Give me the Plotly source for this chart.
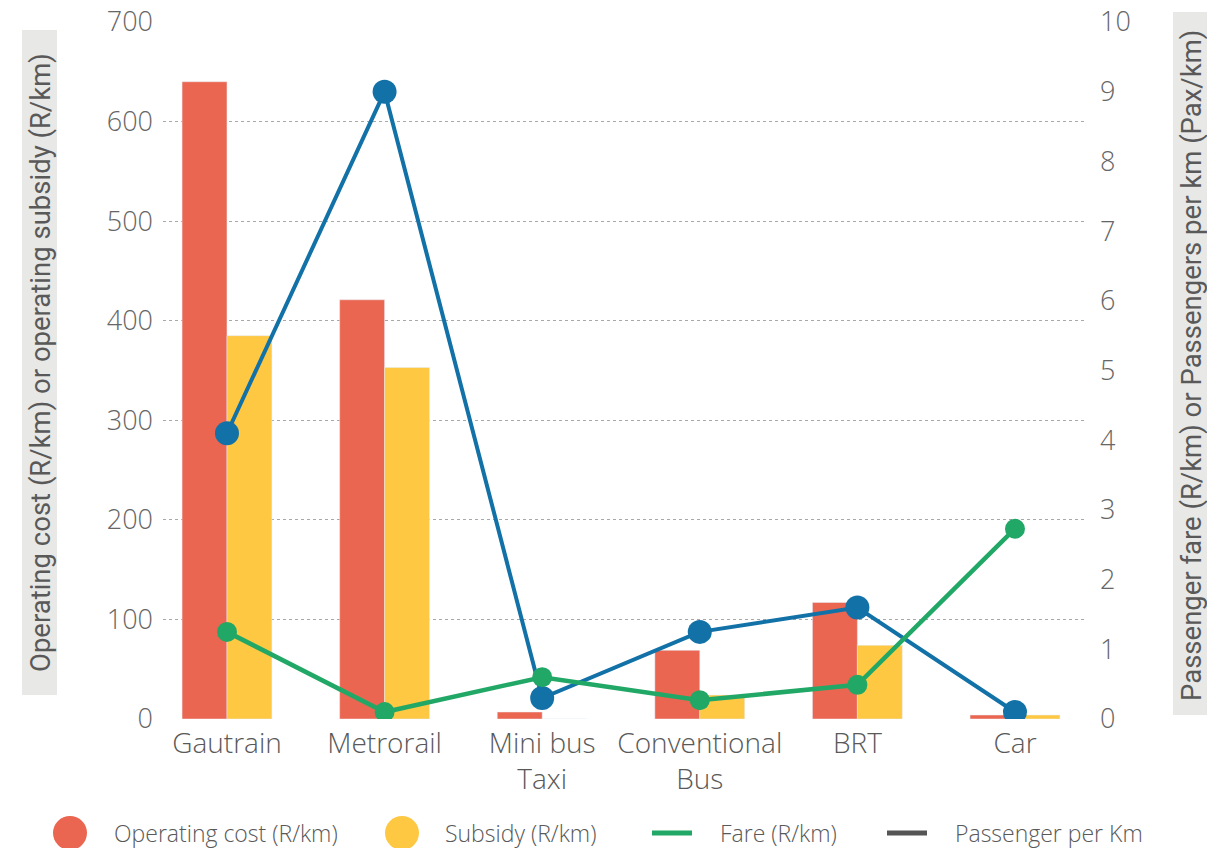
import plotly.graph_objects as go

categories = ["Gautrain", "Metrorail", "Mini bus<br>Taxi", "Conventional<br>Bus", "BRT", "Car"]
operating_cost = [640, 421, 7, 69, 117, 4]
subsidy = [385, 353, 0, 24, 74, 4]
fare = [1.25, 0.1, 0.6, 0.27, 0.49, 2.73]
passengers_per_km = [4.1, 9.0, 0.3, 1.25, 1.6, 0.1]
left_ticks = [0, 100, 200, 300, 400, 500, 600, 700]
right_ticks = [0, 1, 2, 3, 4, 5, 6, 7, 8, 9, 10]

RED = "#EB6650"
YELLOW = "#FEC843"
GREEN = "#22A866"
BLUE = "#1271A7"
TXT = "#595959"

# pixel geometry of plot area
W, H = 1207, 848
PX0, PX1, PY0, PY1 = 163, 1087, 22, 719


def px(x):
    return (x - PX0) / (PX1 - PX0)


def py(y):
    return (PY1 - y) / (PY1 - PY0)


fig = go.Figure()
fig.add_trace(go.Bar(x=categories, y=operating_cost, name="Operating cost (R/km)",
                     marker=dict(color=RED), showlegend=False))
fig.add_trace(go.Bar(x=categories, y=subsidy, name="Subsidy (R/km)",
                     marker=dict(color=YELLOW), showlegend=False))
fig.add_trace(go.Scatter(x=categories, y=passengers_per_km, name="Passenger per Km",
                         mode="lines+markers", yaxis="y2",
                         line=dict(color=BLUE, width=4),
                         marker=dict(color=BLUE, size=24), showlegend=False))
fig.add_trace(go.Scatter(x=categories, y=fare, name="Fare (R/km)",
                         mode="lines+markers", yaxis="y2",
                         line=dict(color=GREEN, width=4.5),
                         marker=dict(color=GREEN, size=20), showlegend=False))

shapes = []
annotations = []

# axis title boxes
shapes.append(dict(type="rect", xref="paper", yref="paper", layer="below",
                   x0=px(22), x1=px(57), y0=py(695), y1=py(30),
                   fillcolor="#E8E8E6", line=dict(width=0)))
shapes.append(dict(type="rect", xref="paper", yref="paper", layer="below",
                   x0=px(1173), x1=px(1215), y0=py(715), y1=py(12),
                   fillcolor="#E8E8E6", line=dict(width=0)))
annotations.append(dict(text="Operating cost (R/km) or operating subsidy (R/km)",
                        xref="paper", yref="paper", x=px(40), y=py(363),
                        xanchor="center", yanchor="middle",
                        textangle=-90, showarrow=False,
                        font=dict(family="Roboto", size=27.5, color=TXT)))
annotations.append(dict(text="Passenger fare (R/km) or Passengers per km (Pax/km)",
                        xref="paper", yref="paper", x=px(1191), y=py(366),
                        xanchor="center", yanchor="middle",
                        textangle=-90, showarrow=False,
                        font=dict(family="Roboto", size=27.5, color=TXT)))

# custom legend
legend_items = [
    ("circle", RED, 70, 112, "Operating cost (R/km)"),
    ("circle", YELLOW, 402, 443, "Subsidy (R/km)"),
    ("line", GREEN, 672, 718, "Fare (R/km)"),
    ("line", "#555555", 907, 953, "Passenger per Km"),
]
LY = 833
for kind, col, cx, tx, label in legend_items:
    if kind == "circle":
        shapes.append(dict(type="circle", xref="paper", yref="paper",
                           x0=px(cx - 17), x1=px(cx + 17), y0=py(LY + 17), y1=py(LY - 17),
                           fillcolor=col, line=dict(width=0)))
    else:
        shapes.append(dict(type="line", xref="paper", yref="paper",
                           x0=px(cx - 20), x1=px(cx + 20), y0=py(LY), y1=py(LY),
                           line=dict(color=col, width=5)))
    annotations.append(dict(text=label, xref="paper", yref="paper",
                            x=px(tx), y=py(LY), xanchor="left", yanchor="middle",
                            showarrow=False,
                            font=dict(family="Open Sans", size=23, weight=300, color=TXT)))

fig.update_layout(
    width=W, height=H,
    margin=dict(l=PX0, r=W - PX1, t=PY0, b=H - PY1),
    paper_bgcolor="white", plot_bgcolor="white",
    barmode="group", bargap=0.43, bargroupgap=0.0,
    font=dict(family="Open Sans", color=TXT),
    xaxis=dict(type="category", range=[-0.406, 5.457], showgrid=False,
               showline=False, zeroline=False, ticks="", automargin=False,
               ticklabelstandoff=5,
               tickfont=dict(family="Open Sans", size=28, weight=300, color=TXT)),
    yaxis=dict(range=[0, 700], tickvals=left_ticks, showgrid=True,
               gridcolor="#A8A8A8", griddash="dot", gridwidth=1,
               zeroline=False, showline=False, ticks="", automargin=False,
               ticklabelstandoff=9,
               tickfont=dict(family="Open Sans", size=27, weight=300, color="#666666")),
    yaxis2=dict(range=[0, 10], tickvals=right_ticks, overlaying="y", side="right",
                showgrid=False, zeroline=False, showline=False, ticks="",
                automargin=False, ticklabelstandoff=12,
                tickfont=dict(family="Open Sans", size=27, weight=300, color="#666666")),
    shapes=shapes, annotations=annotations,
)

fig.write_html("out.html")
